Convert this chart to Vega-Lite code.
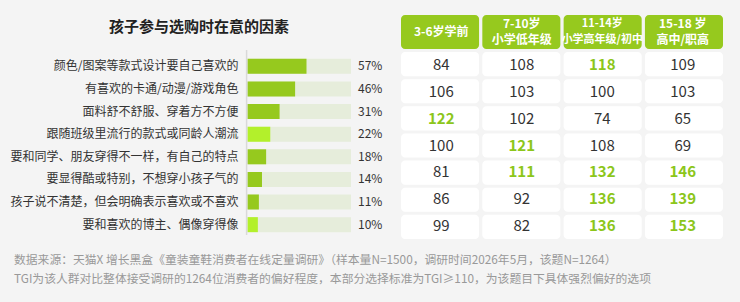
{
  "$schema": "https://vega.github.io/schema/vega-lite/v6.json",
  "width": 740,
  "height": 302,
  "autosize": {"type": "fit", "contains": "padding"},
  "padding": 0,
  "background": "#f4f4f4",
  "config": {"view": {"stroke": null}, "font": "Noto Sans CJK SC", "text": {"font": "Noto Sans CJK SC"}},
  "datasets": {
    "factors": [
      {"factor": "颜色/图案等款式设计要自己喜欢的", "share": 0.57},
      {"factor": "有喜欢的卡通/动漫/游戏角色", "share": 0.46},
      {"factor": "面料舒不舒服、穿着方不方便", "share": 0.31},
      {"factor": "跟随班级里流行的款式或同龄人潮流", "share": 0.22},
      {"factor": "要和同学、朋友穿得不一样，有自己的特点", "share": 0.18},
      {"factor": "要显得酷或特别，不想穿小孩子气的", "share": 0.14},
      {"factor": "孩子说不清楚，但会明确表示喜欢或不喜欢", "share": 0.11},
      {"factor": "要和喜欢的博主、偶像穿得像", "share": 0.10}
    ],
    "headers": [
      {"age": "3-6岁学前", "label": "3-6岁学前"},
      {"age": "7-10岁小学低年级", "label": "7-10岁\n小学低年级"},
      {"age": "11-14岁小学高年级/初中", "label": "11-14岁\n小学高年级/初中"},
      {"age": "15-18岁高中/职高", "label": "15-18 岁\n高中/职高"}
    ],
    "tgi": [
      {"row": 1, "age": "3-6岁学前", "tgi": 84},
      {"row": 1, "age": "7-10岁小学低年级", "tgi": 108},
      {"row": 1, "age": "11-14岁小学高年级/初中", "tgi": 118},
      {"row": 1, "age": "15-18岁高中/职高", "tgi": 109},
      {"row": 2, "age": "3-6岁学前", "tgi": 106},
      {"row": 2, "age": "7-10岁小学低年级", "tgi": 103},
      {"row": 2, "age": "11-14岁小学高年级/初中", "tgi": 100},
      {"row": 2, "age": "15-18岁高中/职高", "tgi": 103},
      {"row": 3, "age": "3-6岁学前", "tgi": 122},
      {"row": 3, "age": "7-10岁小学低年级", "tgi": 102},
      {"row": 3, "age": "11-14岁小学高年级/初中", "tgi": 74},
      {"row": 3, "age": "15-18岁高中/职高", "tgi": 65},
      {"row": 4, "age": "3-6岁学前", "tgi": 100},
      {"row": 4, "age": "7-10岁小学低年级", "tgi": 121},
      {"row": 4, "age": "11-14岁小学高年级/初中", "tgi": 108},
      {"row": 4, "age": "15-18岁高中/职高", "tgi": 69},
      {"row": 5, "age": "3-6岁学前", "tgi": 81},
      {"row": 5, "age": "7-10岁小学低年级", "tgi": 111},
      {"row": 5, "age": "11-14岁小学高年级/初中", "tgi": 132},
      {"row": 5, "age": "15-18岁高中/职高", "tgi": 146},
      {"row": 6, "age": "3-6岁学前", "tgi": 86},
      {"row": 6, "age": "7-10岁小学低年级", "tgi": 92},
      {"row": 6, "age": "11-14岁小学高年级/初中", "tgi": 136},
      {"row": 6, "age": "15-18岁高中/职高", "tgi": 139},
      {"row": 7, "age": "3-6岁学前", "tgi": 99},
      {"row": 7, "age": "7-10岁小学低年级", "tgi": 82},
      {"row": 7, "age": "11-14岁小学高年级/初中", "tgi": 136},
      {"row": 7, "age": "15-18岁高中/职高", "tgi": 153}
    ],
    "notes": [
      {"line": 1, "text": "数据来源：天猫X 增长黑盒《童装童鞋消费者在线定量调研》（样本量N=1500，调研时间2026年5月，该题N=1264）"},
      {"line": 2, "text": "TGI为该人群对比整体接受调研的1264位消费者的偏好程度，本部分选择标准为TGI≥110，为该题目下具体强烈偏好的选项"}
    ],
    "heading": [{"text": "孩子参与选购时在意的因素"}]
  },
  "resolve": {"scale": {"x": "independent", "y": "independent", "color": "independent", "size": "independent"}},
  "layer": [
    {
      "data": {"name": "heading"},
      "mark": {"type": "text", "fontSize": 15, "fontWeight": "bold", "color": "#222222", "align": "center", "baseline": "middle"},
      "encoding": {
        "text": {"field": "text"},
        "x": {"datum": 0.5, "type": "quantitative", "scale": {"domain": [0, 1], "range": [14, 384]}, "axis": null},
        "y": {"datum": 0, "type": "quantitative", "scale": {"domain": [0, 1], "range": [27, 100]}, "axis": null}
      }
    },
    {
      "data": {"name": "factors"},
      "mark": {"type": "bar", "color": "#e6eddb"},
      "encoding": {
        "y": {"field": "factor", "type": "nominal", "sort": null, "scale": {"range": [55, 236], "paddingInner": 0.336, "paddingOuter": 0.17}, "axis": null},
        "x": {"datum": 0, "type": "quantitative", "scale": {"domain": [0, 1], "range": [247.5, 351]}, "axis": null},
        "x2": {"datum": 1}
      }
    },
    {
      "data": {"name": "factors"},
      "mark": {"type": "bar"},
      "encoding": {
        "y": {"field": "factor", "type": "nominal", "sort": null, "scale": {"range": [55, 236], "paddingInner": 0.336, "paddingOuter": 0.17}, "axis": null},
        "x": {"field": "share", "type": "quantitative", "scale": {"domain": [0, 1], "range": [247.5, 351]}, "axis": null},
        "color": {
          "condition": {"test": "datum.factor === '跟随班级里流行的款式或同龄人潮流' || datum.factor === '要和喜欢的博主、偶像穿得像'", "value": "#b3f02b"},
          "value": "#96c91e"
        }
      }
    },
    {
      "data": {"name": "factors"},
      "mark": {"type": "text", "fontSize": 12, "color": "#333333", "align": "right", "baseline": "middle", "dx": -9},
      "encoding": {
        "y": {"field": "factor", "type": "nominal", "sort": null, "scale": {"range": [55, 236], "paddingInner": 0.336, "paddingOuter": 0.17}, "axis": null},
        "x": {"datum": 0, "type": "quantitative", "scale": {"domain": [0, 1], "range": [247.5, 351]}, "axis": null},
        "text": {"field": "factor"}
      }
    },
    {
      "data": {"name": "factors"},
      "mark": {"type": "text", "fontSize": 12, "color": "#333333", "align": "left", "baseline": "middle", "dx": 7},
      "encoding": {
        "y": {"field": "factor", "type": "nominal", "sort": null, "scale": {"range": [55, 236], "paddingInner": 0.336, "paddingOuter": 0.17}, "axis": null},
        "x": {"datum": 1, "type": "quantitative", "scale": {"domain": [0, 1], "range": [247.5, 351]}, "axis": null},
        "text": {"field": "share", "format": ".0%"}
      }
    },
    {
      "data": {"name": "heading"},
      "mark": {"type": "rule", "color": "#d9d9d9", "strokeWidth": 1.5},
      "encoding": {
        "x": {"datum": 0, "type": "quantitative", "scale": {"domain": [0, 1], "range": [246.6, 350]}, "axis": null},
        "y": {"datum": 0, "type": "quantitative", "scale": {"domain": [0, 1], "range": [50, 235]}, "axis": null},
        "y2": {"datum": 1}
      }
    },
    {
      "data": {"name": "headers"},
      "mark": {"type": "bar", "color": "#96c91e", "cornerRadius": 4},
      "encoding": {
        "x": {"field": "age", "type": "nominal", "sort": null, "scale": {"range": [401, 723], "paddingInner": 0.04, "paddingOuter": 0}, "axis": null},
        "y": {"datum": 0, "type": "quantitative", "scale": {"domain": [0, 1], "range": [15, 49]}, "axis": null},
        "y2": {"datum": 1}
      }
    },
    {
      "data": {"name": "headers"},
      "transform": [{"filter": "indexof(datum.label, '\\n') < 0"}],
      "mark": {"type": "text", "color": "#ffffff", "fontWeight": "bold", "fontSize": 12, "align": "center", "baseline": "middle"},
      "encoding": {
        "x": {"field": "age", "type": "nominal", "sort": null, "scale": {"domain": ["3-6岁学前", "7-10岁小学低年级", "11-14岁小学高年级/初中", "15-18岁高中/职高"], "range": [401, 723], "paddingInner": 0.04, "paddingOuter": 0}, "axis": null},
        "y": {"datum": 0.5, "type": "quantitative", "scale": {"domain": [0, 1], "range": [15, 49]}, "axis": null},
        "text": {"field": "label"}
      }
    },
    {
      "data": {"name": "headers"},
      "transform": [{"filter": "indexof(datum.label, '\\n') >= 0"}],
      "mark": {"type": "text", "color": "#ffffff", "fontWeight": "bold", "align": "center", "baseline": "middle", "lineBreak": "\n", "lineHeight": 16, "dy": -8},
      "encoding": {
        "x": {"field": "age", "type": "nominal", "sort": null, "scale": {"domain": ["3-6岁学前", "7-10岁小学低年级", "11-14岁小学高年级/初中", "15-18岁高中/职高"], "range": [401, 723], "paddingInner": 0.04, "paddingOuter": 0}, "axis": null},
        "y": {"datum": 0.5, "type": "quantitative", "scale": {"domain": [0, 1], "range": [15, 49]}, "axis": null},
        "text": {"field": "label"},
        "size": {"condition": {"test": "datum.age === '11-14岁小学高年级/初中'", "value": 11}, "value": 12}
      }
    },
    {
      "data": {"name": "tgi"},
      "mark": {"type": "rect", "color": "#ffffff", "cornerRadius": 4},
      "encoding": {
        "x": {"field": "age", "type": "nominal", "sort": null, "scale": {"domain": ["3-6岁学前", "7-10岁小学低年级", "11-14岁小学高年级/初中", "15-18岁高中/职高"], "range": [401, 723], "paddingInner": 0.04, "paddingOuter": 0}, "axis": null},
        "y": {"field": "row", "type": "ordinal", "scale": {"range": [52, 239], "paddingInner": 0.11, "paddingOuter": 0}, "axis": null}
      }
    },
    {
      "data": {"name": "tgi"},
      "transform": [{"filter": "datum.tgi < 110"}],
      "mark": {"type": "text", "fontSize": 15, "color": "#333333", "align": "center", "baseline": "middle"},
      "encoding": {
        "x": {"field": "age", "type": "nominal", "sort": null, "scale": {"domain": ["3-6岁学前", "7-10岁小学低年级", "11-14岁小学高年级/初中", "15-18岁高中/职高"], "range": [401, 723], "paddingInner": 0.04, "paddingOuter": 0}, "axis": null},
        "y": {"field": "row", "type": "ordinal", "scale": {"domain": [1, 2, 3, 4, 5, 6, 7], "range": [52, 239], "paddingInner": 0.11, "paddingOuter": 0}, "axis": null},
        "text": {"field": "tgi"}
      }
    },
    {
      "data": {"name": "tgi"},
      "transform": [{"filter": "datum.tgi >= 110"}],
      "mark": {"type": "text", "fontSize": 15, "fontWeight": "bold", "color": "#8cc61a", "align": "center", "baseline": "middle"},
      "encoding": {
        "x": {"field": "age", "type": "nominal", "sort": null, "scale": {"domain": ["3-6岁学前", "7-10岁小学低年级", "11-14岁小学高年级/初中", "15-18岁高中/职高"], "range": [401, 723], "paddingInner": 0.04, "paddingOuter": 0}, "axis": null},
        "y": {"field": "row", "type": "ordinal", "scale": {"domain": [1, 2, 3, 4, 5, 6, 7], "range": [52, 239], "paddingInner": 0.11, "paddingOuter": 0}, "axis": null},
        "text": {"field": "tgi"}
      }
    },
    {
      "data": {"name": "notes"},
      "mark": {"type": "text", "fontSize": 11.8, "color": "#999999", "align": "left", "baseline": "middle"},
      "encoding": {
        "x": {"datum": 0, "type": "quantitative", "scale": {"domain": [0, 1], "range": [14, 740]}, "axis": null},
        "y": {"field": "line", "type": "ordinal", "scale": {"type": "point", "range": [260, 279], "padding": 0}, "axis": null},
        "text": {"field": "text"}
      }
    }
  ]
}
